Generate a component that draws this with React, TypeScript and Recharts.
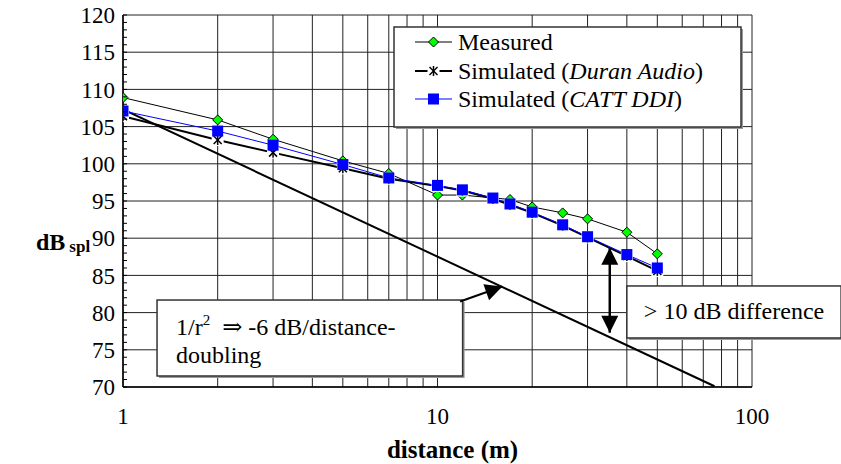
import React from 'react';
import {
    LineChart,
    Line,
    XAxis,
    YAxis,
    CartesianGrid,
    ReferenceArea,
    ReferenceLine,
    Customized
} from 'recharts';

// distances (m) and levels (dB SPL)
const measuredX = [1, 2, 3, 5, 7, 10, 12, 17, 20, 25, 30, 40, 50];
const measuredDb = [108.9, 105.9, 103.3, 100.4, 98.7, 95.8, 95.8, 95.2, 94.2, 93.4, 92.6, 90.8, 87.9];

const simulatedX = [1, 2, 3, 5, 7, 10, 12, 15, 17, 20, 25, 30, 40, 50];
const duranDb = [106.4, 103.2, 101.5, 99.4, 98.0, 97.0, 96.4, 95.3, 94.5, 93.4, 91.7, 90.1, 87.6, 85.6];
const cattDb = [107.1, 104.4, 102.5, 99.9, 98.1, 97.1, 96.5, 95.4, 94.6, 93.5, 91.8, 90.2, 87.8, 86.0];

// 1/r^2 reference line (-6 dB per doubling)
const inverseSquareX = [1, 76];
const inverseSquareDb = [107.3, 70.1];

const xGridTicks = [1, 2, 3, 4, 5, 6, 7, 8, 9, 10, 20, 30, 40, 50, 60, 70, 80, 90, 100];
const xLabelTicks = [1, 10, 100];
const yMinorTicks = Array.from({ length: 51 }, (_, i) => 70 + i);
const yMajorTicks = [70, 75, 80, 85, 90, 95, 100, 105, 110, 115, 120];

const toPoints = (xs: number[], ys: number[]) => xs.map((x, i) => ({ x, y: ys[i] }));
const measured = toPoints(measuredX, measuredDb);
const duran = toPoints(simulatedX, duranDb);
const catt = toPoints(simulatedX, cattDb);
const inverseSquare = toPoints(inverseSquareX, inverseSquareDb);

const FONT = "'Times New Roman', Times, 'Liberation Serif', 'Noto Serif', 'DejaVu Serif', serif";
const serif = { fontFamily: FONT };

const Diamond = ({ cx, cy }: any) => (
    <polygon
        points={`${cx},${cy - 5} ${cx + 5},${cy} ${cx},${cy + 5} ${cx - 5},${cy}`}
        fill="#00ff00"
        stroke="#000"
        strokeWidth={1}
    />
);

const Star = ({ cx, cy }: any) => (
    <g>
        <rect x={cx - 6} y={cy - 6} width={12} height={12} fill="#fff" />
        <line x1={cx - 4} y1={cy - 4} x2={cx + 4} y2={cy + 4} stroke="#000" strokeWidth={1.5} />
        <line x1={cx - 4} y1={cy + 4} x2={cx + 4} y2={cy - 4} stroke="#000" strokeWidth={1.5} />
        <line x1={cx} y1={cy - 5} x2={cx} y2={cy + 5} stroke="#000" strokeWidth={1.5} />
    </g>
);

const Square = ({ cx, cy }: any) => (
    <rect x={cx - 5.5} y={cy - 5.5} width={11} height={11} fill="#0000ff" />
);

const arrowHead = (tx: number, ty: number, fx: number, fy: number) => {
    const len = Math.hypot(tx - fx, ty - fy) || 1;
    const ux = (tx - fx) / len;
    const uy = (ty - fy) / len;
    const L = 17;
    const W = 8.5;
    const bx = tx - ux * L;
    const by = ty - uy * L;
    return `${tx},${ty} ${bx - uy * W},${by + ux * W} ${bx + uy * W},${by - ux * W}`;
};

const SingleArrow = ({ x1, y1, x2, y2 }: any) => (
    <g>
        <line x1={x1} y1={y1} x2={x2} y2={y2} stroke="#000" strokeWidth={2} />
        <polygon points={arrowHead(x2, y2, x1, y1)} fill="#000" />
    </g>
);

const DoubleArrow = ({ x1, y1, x2, y2 }: any) => (
    <g>
        <line x1={x1} y1={y1} x2={x2} y2={y2} stroke="#000" strokeWidth={2.5} />
        <polygon points={arrowHead(x1, y1, x2, y2)} fill="#000" />
        <polygon points={arrowHead(x2, y2, x1, y1)} fill="#000" />
    </g>
);

const InverseSquareBox = ({ x, y, width, height }: any) => (
    <g fontSize={24} fill="#000">
        <rect x={x + 2} y={y + 2} width={width} height={height} fill="#999" />
        <rect x={x} y={y} width={width} height={height} fill="#fff" stroke="#333" strokeWidth={1.5} />
        <text x={x + 19} y={y + 35} style={serif}>
            1/r<tspan dy={-10} fontSize={15}>2</tspan>
            <tspan dy={10} dx={12}>{'\u21D2 -6 dB/distance-'}</tspan>
        </text>
        <text x={x + 19} y={y + 63} style={serif}>doubling</text>
    </g>
);

const DifferenceBox = ({ x, y, width, height }: any) => (
    <g fontSize={24} fill="#000">
        <rect x={x + 2} y={y + 2} width={width} height={height} fill="#999" />
        <rect x={x} y={y} width={width} height={height} fill="#fff" stroke="#333" strokeWidth={1.5} />
        <text x={x + 17} y={y + 33} style={serif}>{'> 10 dB difference'}</text>
    </g>
);

const LegendBox = () => {
    const rows = [
        { y: 42, marker: <Diamond cx={433.5} cy={42} />, color: '#000', width: 1 },
        { y: 71, marker: <Star cx={433.5} cy={71} />, color: '#000', width: 2 },
        { y: 99, marker: <Square cx={433.5} cy={99} />, color: '#0000ff', width: 1 }
    ];
    return (
        <g fontSize={24} fill="#000">
            <rect x={396} y={29} width={347} height={100} fill="#999" />
            <rect x={394} y={27} width={347} height={100} fill="#fff" stroke="#333" strokeWidth={1.5} />
            {rows.map((r, i) => (
                <g key={i}>
                    <line x1={415} x2={452} y1={r.y} y2={r.y} stroke={r.color} strokeWidth={r.width} />
                    {r.marker}
                </g>
            ))}
            <text x={458} y={50} style={serif}>Measured</text>
            <text x={458} y={79} style={serif}>
                Simulated (<tspan fontStyle="italic">Duran Audio</tspan>)
            </text>
            <text x={458} y={107} style={serif}>
                Simulated (<tspan fontStyle="italic">CATT DDI</tspan>)
            </text>
        </g>
    );
};

const YTitle = () => (
    <text x={36} y={250} fontSize={24} fontWeight="bold" fill="#000" style={serif}>
        dB<tspan dx={4} dy={2} fontSize={17}>spl</tspan>
    </text>
);

const YTick = ({ x, y, payload }: any) => {
    const v = payload.value;
    return (
        <g>
            <line x1={x} x2={x + 4} y1={y} y2={y} stroke="#000" strokeWidth={1} />
            {v % 5 === 0 && (
                <text x={x - 8} y={y} dy="0.36em" textAnchor="end" fontSize={23} fill="#000" style={serif}>
                    {v}
                </text>
            )}
        </g>
    );
};

const XTitle = ({ viewBox }: any) => (
    <text
        x={viewBox.x + viewBox.width / 2 + 15}
        y={458}
        textAnchor="middle"
        fontWeight="bold"
        fontSize={25}
        fill="#000"
        style={serif}
    >
        distance (m)
    </text>
);

export default function App() {
    return (
        <div style={{ position: 'absolute', left: 0, top: 0, width: 841, height: 464, background: '#fff', fontFamily: FONT }}>
            <LineChart width={841} height={464} margin={{ top: 15, right: 89, bottom: 0, left: 0 }} style={serif}>
                <CartesianGrid
                    stroke="#222"
                    strokeWidth={1}
                    horizontalValues={yMajorTicks}
                    verticalValues={xGridTicks}
                />
                <XAxis
                    dataKey="x"
                    type="number"
                    scale="log"
                    domain={[1, 100]}
                    allowDataOverflow
                    ticks={xGridTicks}
                    interval={0}
                    tickFormatter={(v: number) => (xLabelTicks.includes(v) ? String(v) : '')}
                    tickLine={false}
                    tickSize={0}
                    tickMargin={21}
                    height={77}
                    axisLine={{ stroke: '#000', strokeWidth: 1.5 }}
                    tick={{ fontSize: 23, fill: '#000', style: serif, fontFamily: FONT }}
                    label={<XTitle />}
                />
                <YAxis
                    type="number"
                    domain={[70, 120]}
                    ticks={yMinorTicks}
                    interval={0}
                    width={123}
                    tickLine={false}
                    tickSize={0}
                    tickMargin={0}
                    axisLine={{ stroke: '#000', strokeWidth: 1.5 }}
                    tick={<YTick />}
                />
                <Line
                    data={inverseSquare}
                    dataKey="y"
                    stroke="#000"
                    strokeWidth={2}
                    dot={false}
                    isAnimationActive={false}
                />
                <Line
                    data={measured}
                    dataKey="y"
                    stroke="#000"
                    strokeWidth={1}
                    dot={(p: any) => <Diamond key={`m${p.index}`} cx={p.cx} cy={p.cy} />}
                    isAnimationActive={false}
                />
                <Line
                    data={duran}
                    dataKey="y"
                    stroke="#000"
                    strokeWidth={2}
                    dot={(p: any) => <Star key={`d${p.index}`} cx={p.cx} cy={p.cy} />}
                    isAnimationActive={false}
                />
                <Line
                    data={catt}
                    dataKey="y"
                    stroke="#0000ff"
                    strokeWidth={1}
                    dot={(p: any) => <Square key={`c${p.index}`} cx={p.cx} cy={p.cy} />}
                    isAnimationActive={false}
                />
                <ReferenceArea x1={1.283} x2={12.02} y1={71.48} y2={81.69} ifOverflow="visible" shape={<InverseSquareBox />} />
                <ReferenceArea x1={40} x2={192} y1={76.59} y2={83.58} ifOverflow="visible" shape={<DifferenceBox />} />
                <ReferenceLine
                    segment={[{ x: 11.8, y: 81.5 }, { x: 16.07, y: 83.5 }]}
                    ifOverflow="visible"
                    shape={<SingleArrow />}
                />
                <ReferenceLine
                    segment={[{ x: 35.3, y: 88.7 }, { x: 35.3, y: 77.3 }]}
                    ifOverflow="visible"
                    shape={<DoubleArrow />}
                />
                <Customized component={<LegendBox />} />
                <Customized component={<YTitle />} />
            </LineChart>
        </div>
    );
}
